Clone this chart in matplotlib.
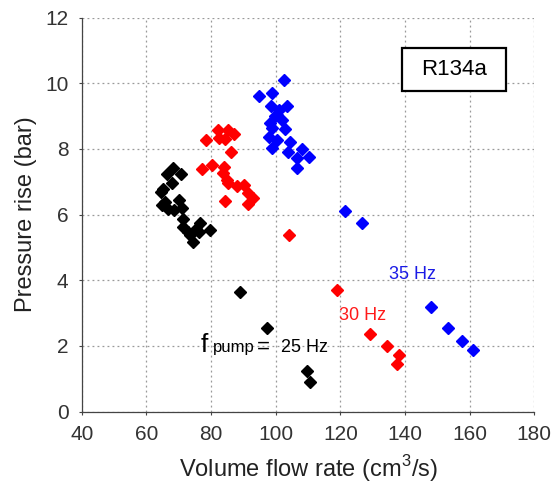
import matplotlib
matplotlib.use("Agg")
import matplotlib.pyplot as plt
from matplotlib.patches import Rectangle

plt.rcParams['font.family'] = ['Liberation Sans', 'DejaVu Sans']
plt.rcParams['mathtext.fontset'] = 'custom'
plt.rcParams['mathtext.rm'] = 'Liberation Sans'

# 25 Hz (black)
x25 = [64.4, 65.1, 66.3, 68.1, 70.7, 67.8, 65.8, 64.9, 66.8, 68.5, 70.2, 70.9,
       71.4, 71.4, 73.0, 73.5, 74.5, 76.6, 76.4, 79.7, 75.2,
       89.0, 97.4, 109.6, 110.6]
y25 = [6.70, 6.77, 7.24, 7.41, 7.24, 6.96, 6.37, 6.30, 6.16, 6.15, 6.45, 6.19,
       5.86, 5.63, 5.48, 5.38, 5.18, 5.74, 5.48, 5.53, 5.55,
       3.63, 2.54, 1.23, 0.91]

# 30 Hz (red)
x30 = [82.1, 85.3, 87.2, 78.4, 82.5, 84.3, 86.2, 77.1, 80.2, 84.1, 83.8, 84.9,
       85.3, 87.9, 90.3, 91.5, 93.1, 91.5, 84.3,
       104.2, 118.9, 129.3, 134.5, 138.0, 137.4]
y30 = [8.58, 8.58, 8.45, 8.26, 8.33, 8.31, 7.92, 7.39, 7.52, 7.46, 7.26, 7.06,
       6.96, 6.88, 6.91, 6.65, 6.52, 6.32, 6.40,
       5.39, 3.70, 2.35, 2.00, 1.72, 1.44]

# 35 Hz (blue)
x35 = [102.6, 94.9, 98.8, 98.5, 103.6, 101.1, 99.8, 101.9, 98.2, 102.9, 98.8,
       98.0, 100.3, 98.9, 104.4, 103.9, 108.0, 110.4, 106.5, 106.5, 100.5,
       121.5, 126.6, 147.9, 153.4, 157.7, 160.9]
y35 = [10.11, 9.62, 9.70, 9.31, 9.31, 9.19, 8.99, 8.89, 8.79, 8.60, 8.63,
       8.38, 8.28, 8.02, 8.20, 7.92, 8.00, 7.75, 7.72, 7.43, 9.05,
       6.10, 5.74, 3.18, 2.54, 2.16, 1.87]

xticks = [40, 60, 80, 100, 120, 140, 160, 180]
yticks = [0, 2, 4, 6, 8, 10, 12]

fig = plt.figure(figsize=(5.54, 4.92), dpi=100)
ax = fig.add_axes([0.1475, 0.1636, 0.817, 0.8004])

ms = 5.8
ax.plot(x25, y25, 'D', color='black', markersize=ms, linestyle='none', zorder=3)
ax.plot(x30, y30, 'D', color='#ff0000', markersize=ms, linestyle='none', zorder=3)
ax.plot(x35, y35, 'D', color='#0000ff', markersize=ms, linestyle='none', zorder=3)

ax.set_xlim(40, 180)
ax.set_ylim(0, 12)
ax.set_xticks(xticks)
ax.set_yticks(yticks)
ax.tick_params(axis='both', labelsize=15, labelcolor='#333333', color='#444444',
               direction='out', length=2.5, width=0.8)
ax.tick_params(axis='x', pad=7)
ax.tick_params(axis='y', pad=7)
ax.grid(True, linestyle=(0, (1.5, 2.5)), color='#999999', linewidth=0.9)
ax.set_axisbelow(True)
for s in ['top', 'right']:
    ax.spines[s].set_visible(False)
for s in ['left', 'bottom']:
    ax.spines[s].set_color('#444444')
    ax.spines[s].set_linewidth(0.9)

ax.set_xlabel('Volume flow rate (cm$^3$/s)', fontsize=17, color='#222222', labelpad=7)
ax.set_ylabel('Pressure rise (bar)', fontsize=17, color='#222222', labelpad=6)

# R134a box
ax.add_patch(Rectangle((139.0, 9.77), 32.2, 1.31, facecolor='white',
                       edgecolor='black', linewidth=1.6, zorder=4))
ax.text(155.1, 10.43, 'R134a', fontsize=16, ha='center', va='center',
        color='black', zorder=5)

ax.text(135.1, 4.03, '35 Hz', fontsize=13, color='#1a1ae6', va='baseline', ha='left')
ax.text(119.6, 2.79, '30 Hz', fontsize=13, color='#ff1a1a', va='baseline', ha='left')

ax.text(76.9, 1.80, 'f', fontsize=19, color='black', va='baseline', ha='left')
ax.text(80.5, 1.80, 'pump', fontsize=12, color='black', va='baseline', ha='left')
ax.text(94.1, 1.80, '=', fontsize=16, color='black', va='baseline', ha='left')
ax.text(101.5, 1.80, '25 Hz', fontsize=13, color='black', va='baseline', ha='left')

fig.savefig('out.png', dpi=100)
